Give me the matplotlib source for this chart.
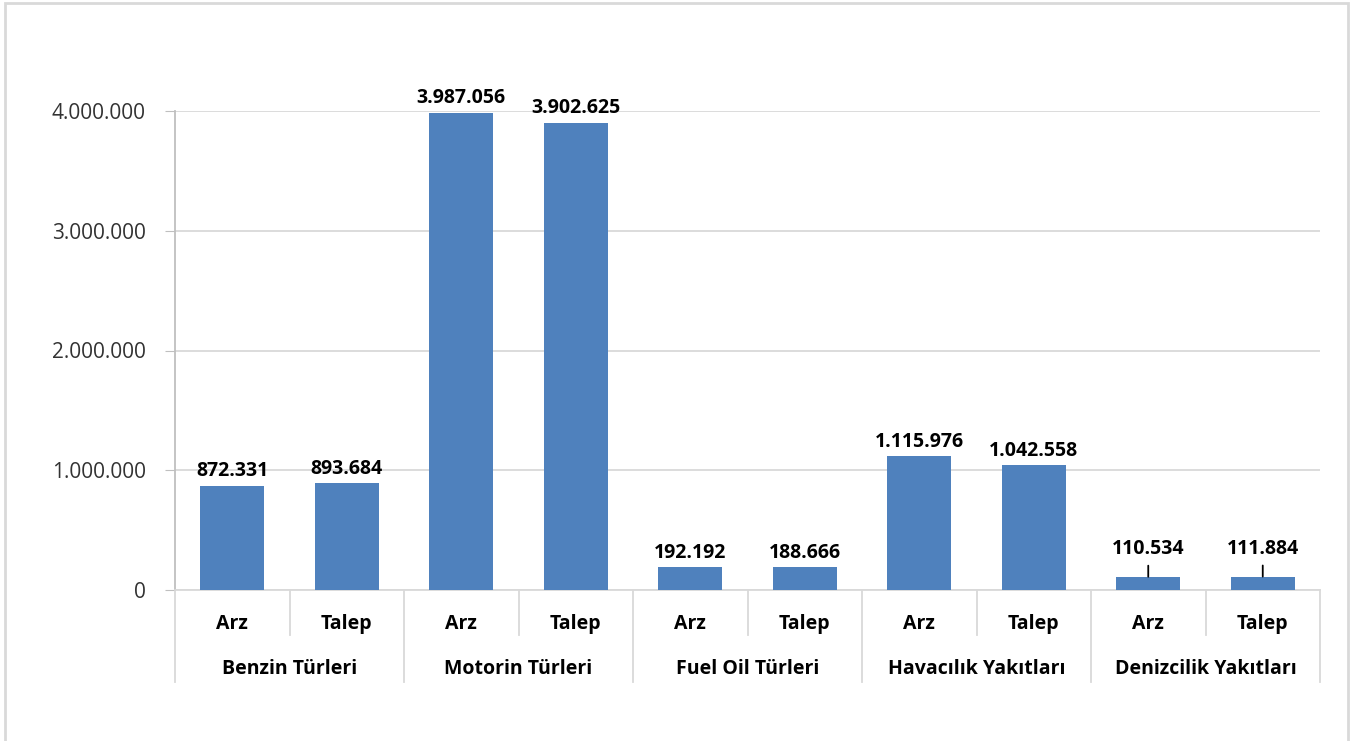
import numpy as np
import matplotlib
matplotlib.use('Agg')
from matplotlib import pyplot as plt
from matplotlib.patches import Rectangle
from matplotlib import transforms

plt.rcParams['font.family'] = ['Open Sans', 'DejaVu Sans']

# data
groups = ['Benzin Türleri', 'Motorin Türleri', 'Fuel Oil Türleri',
          'Havacılık Yakıtları', 'Denizcilik Yakıtları']
subcats = ['Arz', 'Talep']
arz = [872331, 3987056, 192192, 1115976, 110534]
talep = [893684, 3902625, 188666, 1042558, 111884]
yticks = [0, 1000000, 2000000, 3000000, 4000000]

values = []
for a, t in zip(arz, talep):
    values += [a, t]
x = np.arange(len(values))

def fmt(v):
    return f'{v:,.0f}'.replace(',', '.')

fig = plt.figure(figsize=(13.52, 7.41), dpi=100)
ax = fig.add_axes([175/1352, 1 - 590/741, (1320 - 175)/1352, 479/741])

ax.bar(x, values, width=0.56, color='#4F81BD', zorder=3)

ax.set_xlim(-0.5, len(values) - 0.5)
ax.set_ylim(0, 4000000)
ax.set_yticks(yticks)
ax.set_yticklabels([fmt(v) for v in yticks], fontsize=15, color='#333333')
ax.tick_params(axis='y', length=7, color='#BFBFBF', pad=14)
ax.set_xticks([])
ax.yaxis.grid(True, color='#D9D9D9', lw=1.3, zorder=0)
for s in ['top', 'right']:
    ax.spines[s].set_visible(False)
ax.spines['left'].set_color('#BFBFBF')
ax.spines['bottom'].set_color('#D9D9D9')
ax.spines['left'].set_linewidth(1.3)
ax.spines['bottom'].set_linewidth(1.3)

# value labels
leader = [8, 9]
for i, v in enumerate(values):
    if i in leader:
        ax.annotate(fmt(v), (i, v), xytext=(0, 13), textcoords='offset points',
                    ha='center', va='bottom', fontsize=14, fontweight='bold',
                    color='#000000', annotation_clip=False)
        ax.annotate('', (i, v), xytext=(0, 8), textcoords='offset points',
                    arrowprops=dict(arrowstyle='-', color='#000000', lw=1.3,
                                    shrinkA=0, shrinkB=0),
                    annotation_clip=False)
    else:
        ax.annotate(fmt(v), (i, v), xytext=(0, 3), textcoords='offset points',
                    ha='center', va='bottom', fontsize=14, fontweight='bold',
                    color='#000000', annotation_clip=False)

# multi level category axis
trans = transforms.blended_transform_factory(ax.transData, ax.transAxes)
for i in range(len(values)):
    ax.text(i, -0.07, subcats[i % 2], transform=trans, ha='center', va='center',
            fontsize=14, fontweight='bold', color='#000000')
for g, name in enumerate(groups):
    ax.text(2*g + 0.5, -0.165, name, transform=trans, ha='center', va='center',
            fontsize=14, fontweight='bold', color='#000000')
    ax.plot([2*g + 0.5, 2*g + 0.5], [0, -0.094], transform=trans, color='#D9D9D9',
            lw=1.3, clip_on=False)
for g in range(len(groups) + 1):
    ax.plot([2*g - 0.5, 2*g - 0.5], [0, -0.192], transform=trans, color='#D9D9D9',
            lw=1.3, clip_on=False)

# chart border
fig.patches.append(Rectangle((5/1352, -0.01), (1348 - 5)/1352, 1.01 - 3/741,
                             transform=fig.transFigure, fill=False,
                             edgecolor='#D9D9D9', lw=2))

plt.savefig('out.png', dpi=100)
